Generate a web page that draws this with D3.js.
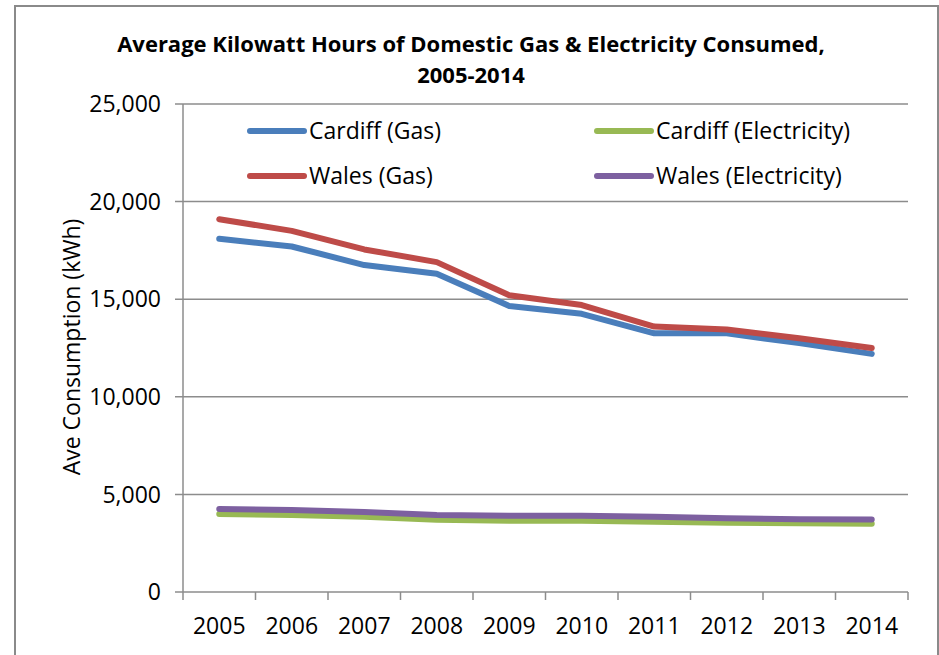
<!DOCTYPE html>
<meta charset="utf-8">
<script src="https://d3js.org/d3.v7.min.js"></script>
<style>
body { margin: 0; background: #fff; }
text { font-family: "Open Sans", sans-serif; fill: #000; }
.grid line { stroke: #8c8c8c; stroke-width: 1.5; }
.series { fill: none; stroke-width: 6; stroke-linejoin: round; stroke-linecap: round; }
</style>
<body>
<script>
// chart values
var years = ["2005", "2006", "2007", "2008", "2009", "2010", "2011", "2012", "2013", "2014"];
var cardiffGas = [18100, 17700, 16750, 16300, 14650, 14250, 13250, 13250, 12750, 12200];
var walesGas   = [19100, 18500, 17550, 16900, 15200, 14700, 13600, 13450, 13000, 12500];
var cardiffElec = [4000, 3950, 3850, 3700, 3650, 3650, 3600, 3550, 3520, 3500];
var walesElec   = [4250, 4200, 4100, 3950, 3900, 3900, 3850, 3780, 3730, 3720];
var yTicks = [0, 5000, 10000, 15000, 20000, 25000];

var seriesNames = ["Cardiff (Gas)", "Wales (Gas)", "Cardiff (Electricity)", "Wales (Electricity)"];
var seriesValues = [cardiffGas, walesGas, cardiffElec, walesElec];
var seriesColors = ["#4a7ebb", "#be4b48", "#98b954", "#7d60a0"];

var width = 939, height = 655;
var plotL = 183, plotR = 908, plotT = 104, plotB = 592;

var svg = d3.select("body").append("svg")
    .attr("width", width)
    .attr("height", height);

// outer frame
svg.append("rect")
    .attr("x", 15).attr("y", 6)
    .attr("width", 923).attr("height", 660)
    .attr("fill", "none")
    .attr("stroke", "#8a8a8a")
    .attr("stroke-width", 2);

var x = d3.scaleBand().domain(years).range([plotL, plotR]);
var y = d3.scaleLinear().domain([0, 25000]).range([plotB, plotT]);

// gridlines + y ticks
var grid = svg.append("g").attr("class", "grid");
grid.selectAll("line").data(yTicks).enter().append("line")
    .attr("x1", plotL - 8).attr("x2", plotR)
    .attr("y1", function(d) { return y(d); })
    .attr("y2", function(d) { return y(d); });

svg.append("g").selectAll("text").data(yTicks).enter().append("text")
    .attr("x", 161)
    .attr("y", function(d) { return y(d); })
    .attr("dy", "0.36em")
    .attr("text-anchor", "end")
    .style("font-size", "23px")
    .text(function(d) { return d3.format(",")(d); });

// axis lines
svg.append("line")
    .attr("x1", plotL).attr("x2", plotL)
    .attr("y1", plotT).attr("y2", plotB)
    .attr("stroke", "#8c8c8c").attr("stroke-width", 1.5);

var xTickPos = years.map(function(d) { return x(d); }).concat([plotR]);
svg.append("g").selectAll("line").data(xTickPos).enter().append("line")
    .attr("x1", function(d) { return d; })
    .attr("x2", function(d) { return d; })
    .attr("y1", plotB).attr("y2", plotB + 8)
    .attr("stroke", "#8c8c8c").attr("stroke-width", 1.5);

svg.append("g").selectAll("text").data(years).enter().append("text")
    .attr("x", function(d) { return x(d) + x.bandwidth() / 2; })
    .attr("y", 634)
    .attr("text-anchor", "middle")
    .style("font-size", "23px")
    .text(function(d) { return d; });

// y axis title
svg.append("text")
    .attr("transform", "translate(80,347) rotate(-90)")
    .attr("text-anchor", "middle")
    .style("font-size", "23px")
    .text("Ave Consumption (kWh)");

// title
var title = svg.append("text")
    .attr("text-anchor", "middle")
    .style("font-size", "22px")
    .style("font-weight", "bold");
title.append("tspan").attr("x", 471).attr("y", 52)
    .text("Average Kilowatt Hours of Domestic Gas & Electricity Consumed,");
title.append("tspan").attr("x", 471).attr("y", 83)
    .text("2005-2014");

// lines
var line = d3.line()
    .x(function(d, i) { return x(years[i]) + x.bandwidth() / 2; })
    .y(function(d) { return y(d); });

// electricity first, gas on top
var order = [2, 3, 0, 1];
order.forEach(function(k) {
  svg.append("path")
      .datum(seriesValues[k])
      .attr("class", "series")
      .attr("stroke", seriesColors[k])
      .attr("d", line);
});

// legend
var legendPos = [[250, 131], [250, 176], [597, 131], [597, 176]];
var legend = svg.append("g").selectAll("g").data(seriesNames).enter().append("g")
    .attr("transform", function(d, i) { return "translate(" + legendPos[i][0] + "," + legendPos[i][1] + ")"; });
legend.append("line")
    .attr("x1", 0).attr("x2", 54)
    .attr("stroke", function(d, i) { return seriesColors[i]; })
    .attr("stroke-width", 6)
    .attr("stroke-linecap", "round");
legend.append("text")
    .attr("x", 59)
    .attr("dy", "0.36em")
    .style("font-size", "23px")
    .text(function(d) { return d; });
</script>
</body>
